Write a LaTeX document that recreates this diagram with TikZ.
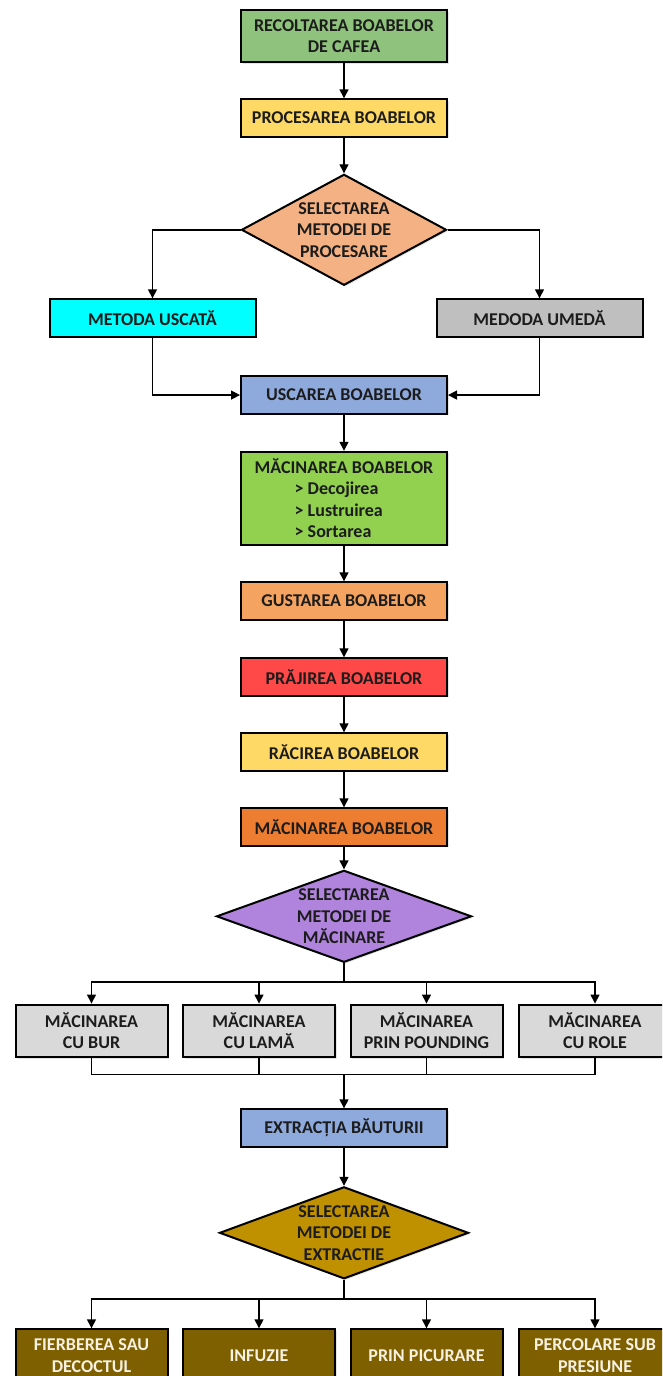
\documentclass[tikz,border=0pt]{standalone}
\usepackage{fontspec}
\setmainfont{Carlito}
\usepackage{tikz}
\usetikzlibrary{arrows.meta,positioning,shapes.geometric,shadows}
\usepackage{xcolor}
\definecolor{Leaf}{HTML}{8FC27C}
\definecolor{Butter}{HTML}{FFD966}
\definecolor{Peach}{HTML}{F4B183}
\definecolor{Aqua}{HTML}{00FFFF}
\definecolor{Ash}{HTML}{BFBFBF}
\definecolor{Sky}{HTML}{8EA9DB}
\definecolor{Lime}{HTML}{92D050}
\definecolor{Apricot}{HTML}{F4A460}
\definecolor{Scarlet}{HTML}{FF4848}
\definecolor{Rust}{HTML}{ED7D31}
\definecolor{Lilac}{HTML}{B084DD}
\definecolor{Pebble}{HTML}{D9D9D9}
\definecolor{Ochre}{HTML}{BF9000}
\definecolor{Bark}{HTML}{7F6000}
\definecolor{Ink}{HTML}{1C1C1C}
\definecolor{Cream}{HTML}{F7F1E1}
\tikzset{
  stepbox/.style={draw=black, line width=2pt, minimum width=206pt, minimum height=37.5pt,
    inner sep=2pt, align=center, text=Ink, font=\fontsize{18}{21.5}\selectfont\bfseries,
    drop shadow={opacity=0.2, shadow xshift=1.5pt, shadow yshift=-1.5pt},
    fill=#1},
  stepbox/.default={white},
  choice/.style={diamond, draw=black, line width=2pt, inner sep=0pt, align=center,
    text=Ink, font=\fontsize{18}{21.5}\selectfont\bfseries,
    drop shadow={opacity=0.2, shadow xshift=1.5pt, shadow yshift=-1.5pt},
    fill=#1},
  flowarr/.style={-{Triangle[length=9pt,width=9pt]}, line width=1.4pt},
  flowline/.style={line width=1.4pt},
}
\begin{document}
\begin{tikzpicture}[x=1pt,y=1pt]
  \useasboundingbox (0,0) rectangle (662,-1376);
  \clip (0,0) rectangle (662,-1376);
  \fill[white] (0,0) rectangle (662,-1376);

  \node[stepbox=Leaf, minimum height=52pt] (recolt) at (344,-36.3) {RECOLTAREA BOABELOR\\DE CAFEA};
  \node[stepbox=Butter, below=35pt of recolt] (proc) {PROCESAREA BOABELOR};
  \node[choice=Peach, aspect=1.85, minimum width=205pt, minimum height=111pt, below=35.5pt of proc]
    (selproc) {SELECTAREA\\METODEI DE\\PROCESARE};
  \node[stepbox=Aqua, below=12pt of selproc, xshift=-191.5pt] (dry) {METODA USCATĂ};
  \node[stepbox=Ash, below=12pt of selproc, xshift=195.5pt] (wet) {MEDODA UMEDĂ};
  \node[stepbox=Sky, below=89pt of selproc] (drying) {USCAREA BOABELOR};
  \node[stepbox=Lime, minimum height=93pt, below=36pt of drying, align=left]
    (hull) {MĂCINAREA BOABELOR\\\hspace*{40pt}> Decojirea\\\hspace*{40pt}> Lustruirea\\\hspace*{40pt}> Sortarea};
  \node[stepbox=Apricot, below=35.5pt of hull] (taste) {GUSTAREA BOABELOR};
  \node[stepbox=Scarlet, below=36.5pt of taste] (roast) {PRĂJIREA BOABELOR};
  \node[stepbox=Butter, below=35.5pt of roast] (cool) {RĂCIREA BOABELOR};
  \node[stepbox=Rust, below=35.5pt of cool] (grind) {MĂCINAREA BOABELOR};
  \node[choice=Lilac, aspect=2.77, minimum width=255pt, minimum height=92pt, below=22.5pt of grind]
    (selgrind) {SELECTAREA\\METODEI DE\\MĂCINARE};

  \node[stepbox=Pebble, minimum width=152pt, minimum height=52.5pt] (burr) at (91.5,-1030.8) {MĂCINAREA\\CU BUR};
  \node[stepbox=Pebble, minimum width=152pt, minimum height=52.5pt, right=13.5pt of burr] (blade) {MĂCINAREA\\CU LAMĂ};
  \node[stepbox=Pebble, minimum width=152pt, minimum height=52.5pt, right=13.5pt of blade] (pound) {MĂCINAREA\\PRIN POUNDING};
  \node[stepbox=Pebble, minimum width=152pt, minimum height=52.5pt, right=14.5pt of pound] (roller) {MĂCINAREA\\CU ROLE};

  \node[stepbox=Sky, below=145pt of selgrind] (brew) {EXTRACȚIA BĂUTURII};
  \node[choice=Ochre, aspect=2.68, minimum width=249pt, minimum height=92pt, below=38pt of brew]
    (selbrew) {SELECTAREA\\METODEI DE\\EXTRACTIE};

  \node[stepbox=Bark, text=Cream, minimum width=152pt, minimum height=53pt] (boil) at (91.5,-1355.8) {FIERBEREA SAU\\DECOCTUL};
  \node[stepbox=Bark, text=Cream, minimum width=152pt, minimum height=53pt, right=13.5pt of boil] (infuse) {INFUZIE};
  \node[stepbox=Bark, text=Cream, minimum width=152pt, minimum height=53pt, right=13.5pt of infuse] (drip) {PRIN PICURARE};
  \node[stepbox=Bark, text=Cream, minimum width=152pt, minimum height=53pt, right=14.5pt of drip] (press) {PERCOLARE SUB\\PRESIUNE};

  % main chain
  \draw[flowarr] (recolt) -- (proc);
  \draw[flowarr] (proc) -- (selproc);
  \draw[flowarr] (selproc.west) -| (dry.north);
  \draw[flowarr] (selproc.east) -| (wet.north);
  \draw[flowarr] (dry.south) |- (drying.west);
  \draw[flowarr] (wet.south) |- (drying.east);
  \draw[flowarr] (drying) -- (hull);
  \draw[flowarr] (hull) -- (taste);
  \draw[flowarr] (taste) -- (roast);
  \draw[flowarr] (roast) -- (cool);
  \draw[flowarr] (cool) -- (grind);
  \draw[flowarr] (grind) -- (selgrind);

  % grinding methods
  \coordinate[below=18.7pt of selgrind.south] (split);
  \draw[flowline] (selgrind.south) -- (split);
  \draw[flowarr] (split) -| (burr.north);
  \draw[flowarr] (split) -| (blade.north);
  \draw[flowarr] (split) -| (pound.north);
  \draw[flowarr] (split) -| (roller.north);
  \coordinate[above=34pt of brew.north] (merge);
  \draw[flowline] (burr.south) |- (merge);
  \draw[flowline] (blade.south) |- (merge);
  \draw[flowline] (pound.south) |- (merge);
  \draw[flowline] (roller.south) |- (merge);
  \draw[flowarr] (merge) -- (brew);

  % extraction methods
  \draw[flowarr] (brew) -- (selbrew);
  \coordinate[below=19.3pt of selbrew.south] (fork);
  \draw[flowline] (selbrew.south) -- (fork);
  \draw[flowarr] (fork) -| (boil.north);
  \draw[flowarr] (fork) -| (infuse.north);
  \draw[flowarr] (fork) -| (drip.north);
  \draw[flowarr] (fork) -| (press.north);
\end{tikzpicture}
\end{document}
